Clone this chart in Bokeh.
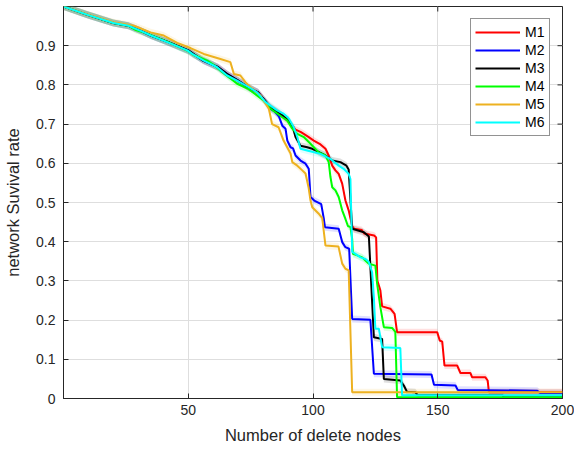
from bokeh.plotting import figure
from bokeh.models import Range1d, FixedTicker, CustomJSTickFormatter, Legend, LegendItem
from bokeh.embed import file_html
from bokeh.resources import INLINE

# ---- data ----
series_names = ["M1", "M2", "M3", "M4", "M5", "M6"]
series_colors = ["#FF0000", "#0000FF", "#000000", "#00FF00", "#EDB120", "#00FFFF"]

m1_x = [0, 10, 20, 26, 31, 35, 42, 50, 52, 56, 62, 66, 70, 74, 78, 81, 83, 86, 88.3, 90, 92.3, 93, 95, 96.3, 98,
        100.3, 103, 105, 106.3, 107.7, 109, 110.3, 111.7, 113, 114.3, 115, 115.7, 116.5, 119.5, 120.5, 124.5, 125.3,
        125.8, 127, 127.7, 131, 132.7, 133.7, 149.8, 150.8, 151.8, 152.7, 157.8, 159.1, 163.1, 163.8, 169.1, 170,
        170.5, 200]
m1_y = [1.0, 0.978, 0.958, 0.951, 0.938, 0.926, 0.909, 0.888, 0.879, 0.862, 0.845, 0.826, 0.811, 0.794, 0.781, 0.758,
        0.745, 0.73, 0.718, 0.708, 0.692, 0.686, 0.68, 0.675, 0.668, 0.658, 0.648, 0.637, 0.62, 0.594, 0.582, 0.573,
        0.548, 0.505, 0.48, 0.46, 0.44, 0.433, 0.43, 0.421, 0.416, 0.411, 0.30, 0.276, 0.235, 0.229, 0.216, 0.169,
        0.169, 0.148, 0.145, 0.084, 0.084, 0.065, 0.065, 0.054, 0.054, 0.046, 0.016, 0.016]

m2_x = [0, 10, 20, 26, 31, 35, 42, 50, 52, 56, 62, 66, 70, 74, 78, 81, 83, 84.5, 86.3, 87.7, 89, 89.7, 91, 92, 93, 95,
        97, 98.3, 99, 100.5, 103.3, 104.3, 104.8, 110.3, 111.7, 113, 114.5, 115.7, 123, 124.4, 147.5, 148.5, 157.1,
        158, 189.9, 191, 200]
m2_y = [1.0, 0.978, 0.958, 0.951, 0.938, 0.926, 0.909, 0.888, 0.879, 0.862, 0.845, 0.826, 0.811, 0.794, 0.781, 0.758,
        0.739, 0.733, 0.72, 0.696, 0.688, 0.658, 0.641, 0.638, 0.62, 0.607, 0.599, 0.586, 0.514, 0.505, 0.496, 0.46,
        0.437, 0.433, 0.399, 0.386, 0.382, 0.203, 0.201, 0.063, 0.061, 0.035, 0.033, 0.022, 0.02, 0.014, 0.014]

m3_x = [0, 10, 20, 26, 31, 35, 42, 50, 52, 56, 62, 66, 70, 74, 78, 81, 83, 86, 88.3, 90.3, 92, 93, 95, 97.7, 99.7,
        101, 105, 107.7, 111, 113.4, 114.3, 115.7, 120.4, 122.4, 124.4, 127.7, 128.4, 135, 136.4, 137.7, 141, 142,
        176, 176.5, 200]
m3_y = [1.0, 0.978, 0.958, 0.951, 0.938, 0.926, 0.909, 0.888, 0.879, 0.862, 0.845, 0.826, 0.811, 0.794, 0.781, 0.758,
        0.742, 0.73, 0.72, 0.71, 0.69, 0.667, 0.645, 0.641, 0.637, 0.633, 0.62, 0.607, 0.603, 0.594, 0.584, 0.433,
        0.424, 0.413, 0.156, 0.152, 0.05, 0.046, 0.033, 0.017, 0.016, 0.008, 0.008, 0.003, 0.003]

m4_x = [0, 10, 20, 26, 29, 33, 36, 42, 50, 52, 57.6, 60, 63.6, 69.6, 74, 80.3, 83, 87.6, 89.7, 91.5, 93.7, 96.3, 99,
        102.3, 105, 106.3, 107, 107.7, 109, 110.3, 111.7, 113, 114, 115, 115.7, 116, 117.7, 119.7, 121, 122.4, 125,
        125.7, 127, 128.4, 131.7, 133, 133.7, 200]
m4_y = [1.0, 0.978, 0.958, 0.951, 0.94, 0.932, 0.924, 0.909, 0.886, 0.877, 0.862, 0.852, 0.833, 0.803, 0.79, 0.76,
        0.739, 0.718, 0.709, 0.69, 0.675, 0.667, 0.65, 0.628, 0.62, 0.603, 0.565, 0.539, 0.531, 0.514, 0.48, 0.458,
        0.44, 0.437, 0.407, 0.369, 0.365, 0.36, 0.352, 0.344, 0.339, 0.293, 0.233, 0.182, 0.18, 0.17, 0.003, 0.003]

m5_x = [0, 10, 20, 28.2, 34.9, 40.2, 45.6, 50.9, 56.2, 62.9, 66.9, 68.3, 70.9, 72.9, 74.9, 79, 82.3, 83.6, 86.2, 88.2,
        91, 91.7, 93.7, 95.7, 97, 98.2, 99, 99.7, 102.2, 103.7, 105, 110.2, 111.7, 113, 114.3, 115.7, 200]
m5_y = [1.0, 0.979, 0.96, 0.951, 0.934, 0.926, 0.907, 0.894, 0.879, 0.866, 0.858, 0.828, 0.824, 0.807, 0.794, 0.773,
        0.739, 0.70, 0.692, 0.658, 0.625, 0.603, 0.594, 0.582, 0.574, 0.539, 0.505, 0.488, 0.472, 0.46, 0.39, 0.388,
        0.344, 0.331, 0.327, 0.016, 0.016]

m6_x = [0, 10, 20, 26, 31, 35, 41.6, 49.6, 51.6, 56.2, 61.6, 65.6, 69.6, 74.3, 77.6, 81, 85.6, 88.3, 89.7, 90.3, 92.3,
        93.7, 95, 98, 103, 107, 110.3, 112.3, 114.3, 115, 115.7, 117, 119, 121, 122.4, 123.7, 124.4, 125, 126.4,
        127.7, 135, 135.7, 200]
m6_y = [1.0, 0.978, 0.958, 0.951, 0.938, 0.926, 0.909, 0.888, 0.879, 0.862, 0.845, 0.824, 0.811, 0.794, 0.781, 0.756,
        0.735, 0.726, 0.718, 0.714, 0.692, 0.667, 0.637, 0.632, 0.624, 0.611, 0.594, 0.586, 0.573, 0.56, 0.374, 0.369,
        0.36, 0.356, 0.348, 0.322, 0.258, 0.178, 0.178, 0.131, 0.129, 0.008, 0.008]

x_ticks = [50, 100, 150, 200]
y_ticks = [0, 0.1, 0.2, 0.3, 0.4, 0.5, 0.6, 0.7, 0.8, 0.9]
x_label = "Number of delete nodes"
y_label = "network Suvival rate"

series_x = [m1_x, m2_x, m3_x, m4_x, m5_x, m6_x]
series_y = [m1_y, m2_y, m3_y, m4_y, m5_y, m6_y]

FONT = "Liberation Sans"
TXT = "#262626"
X0, X1, Y0, Y1 = 0, 200, 0, 1
W, H = 574, 449
BL, BR, BT, BB = 63, 12, 6, 51

p = figure(width=W, height=H, output_backend="svg", toolbar_location=None,
           x_range=Range1d(X0, X1), y_range=Range1d(Y0, Y1))
p.min_border_left = BL
p.min_border_right = BR
p.min_border_top = BT
p.min_border_bottom = BB
p.background_fill_color = "white"
p.border_fill_color = "white"
p.outline_line_color = "#262626"
p.outline_line_width = 1

xt = FixedTicker(ticks=x_ticks)
yt = FixedTicker(ticks=y_ticks)
xfmt = CustomJSTickFormatter(code="return tick.toFixed(0);")
yfmt = CustomJSTickFormatter(code="return Math.abs(tick) < 1e-9 ? '0' : tick.toFixed(1);")

for ax, t, f in ((p.xaxis[0], xt, xfmt), (p.yaxis[0], yt, yfmt)):
    ax.ticker = t
    ax.formatter = f
    ax.major_tick_in = 5
    ax.major_tick_out = 0
    ax.minor_tick_line_color = None
    ax.axis_line_color = "#262626"
    ax.major_tick_line_color = "#262626"
    ax.major_label_text_font = FONT
    ax.major_label_text_font_size = "14px"
    ax.major_label_text_color = TXT
    ax.axis_label_text_font = FONT
    ax.axis_label_text_font_size = "16.5px"
    ax.axis_label_text_font_style = "normal"
    ax.axis_label_text_color = TXT

p.xaxis.axis_label = x_label
p.yaxis.axis_label = y_label
p.xaxis.major_label_standoff = 6
p.xaxis.axis_label_standoff = 8
p.yaxis.major_label_standoff = 8
p.yaxis.axis_label_standoff = 11

p.xgrid.ticker = xt
p.ygrid.ticker = yt
p.grid.grid_line_color = "#dedede"
p.grid.grid_line_width = 1

# mirrored inward ticks on the top and right edges (box on), 5 px long
frame_w = W - BL - BR
frame_h = H - BT - BB
dx = 5 * (X1 - X0) / frame_w
dy = 5 * (Y1 - Y0) / frame_h
p.segment(x0=x_ticks, y0=[Y1] * len(x_ticks), x1=x_ticks, y1=[Y1 - dy] * len(x_ticks),
          line_color="#262626", line_width=1)
p.segment(x0=[X1] * len(y_ticks), y0=y_ticks, x1=[X1 - dx] * len(y_ticks), y1=y_ticks,
          line_color="#262626", line_width=1)

items = []
for name, col, xs, ys in zip(series_names, series_colors, series_x, series_y):
    lo = [v - 0.009 for v in ys]
    hi = [v + 0.009 for v in ys]
    p.varea(x=xs, y1=lo, y2=hi, fill_color=col, fill_alpha=0.12)
for name, col, xs, ys in zip(series_names, series_colors, series_x, series_y):
    r = p.line(xs, ys, line_color=col, line_width=2)
    items.append(LegendItem(label=name, renderers=[r]))

legend = Legend(items=items, location="top_right")
legend.margin = 12
legend.padding = 4
legend.spacing = 0
legend.glyph_width = 45
legend.glyph_height = 18
legend.label_height = 18
legend.label_standoff = 5
legend.label_text_font = FONT
legend.label_text_font_size = "14px"
legend.label_text_color = "black"
legend.border_line_color = "#262626"
legend.border_line_width = 1
legend.background_fill_color = "white"
legend.background_fill_alpha = 1
p.add_layout(legend, "center")

open("out.html", "w").write(file_html(p, INLINE))
